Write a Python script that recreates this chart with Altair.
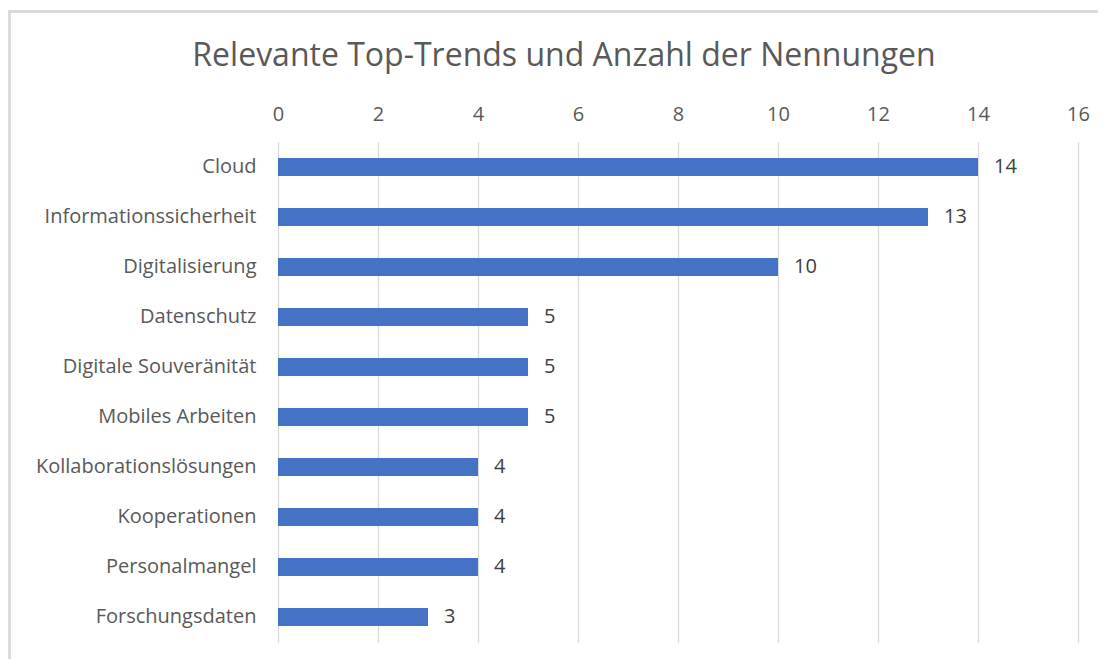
import altair as alt
import pandas as pd

categories = ["Cloud", "Informationssicherheit", "Digitalisierung", "Datenschutz",
              "Digitale Souveränität", "Mobiles Arbeiten", "Kollaborationslösungen",
              "Kooperationen", "Personalmangel", "Forschungsdaten"]
values = [14, 13, 10, 5, 5, 5, 4, 4, 4, 3]
x_ticks = [0, 2, 4, 6, 8, 10, 12, 14, 16]
title_text = "Relevante Top-Trends und Anzahl der Nennungen"

df = pd.DataFrame({"Trend": categories, "Nennungen": values})
df_title = pd.DataFrame({"t": [title_text]})

FONT = "Open Sans"

x_enc = alt.X("Nennungen:Q",
              scale=alt.Scale(domain=[0, 16], nice=False),
              axis=alt.Axis(orient="top", values=x_ticks, title=None, ticks=False,
                            domain=False, grid=True, gridColor="#d9d9d9", gridWidth=1.3,
                            labelFont=FONT, labelFontSize=20, labelColor="#595959",
                            labelFlush=False, labelPadding=18))
y_enc = alt.Y("Trend:N", sort=categories,
              scale=alt.Scale(paddingInner=0.64, paddingOuter=0.32),
              axis=alt.Axis(title=None, ticks=False, domain=False, labelLimit=400,
                            labelFont=FONT, labelFontSize=20, labelColor="#595959",
                            labelPadding=22))

border = alt.Chart(df).mark_rect(fill=None, stroke="#d9d9d9", strokeWidth=1.5, clip=False).encode(
    x=alt.value(-268.5), x2=alt.value(900), y=alt.value(-130.5), y2=alt.value(600)
)

title = alt.Chart(df_title).mark_text(font=FONT, fontSize=32, color="#595959",
                                      align="center", baseline="middle").encode(
    x=alt.value(286), y=alt.value(-86), text="t:N")

bars = alt.Chart(df).mark_bar(color="#4472C4", size=18).encode(x=x_enc, y=y_enc)

labels = alt.Chart(df).mark_text(align="left", dx=16, font=FONT, fontSize=20,
                                 color="#404040").encode(
    x="Nennungen:Q", y=alt.Y("Trend:N", sort=categories), text="Nennungen:Q")

chart = alt.layer(border, title, bars, labels).properties(
    width=800, height=500,
    autosize=alt.AutoSizeParams(type="none"),
    padding={"left": 270, "top": 134, "right": 20, "bottom": 17},
).configure(background="white").configure_view(stroke=None)

chart.save("out.html", embed_options={"renderer": "svg", "actions": False})
